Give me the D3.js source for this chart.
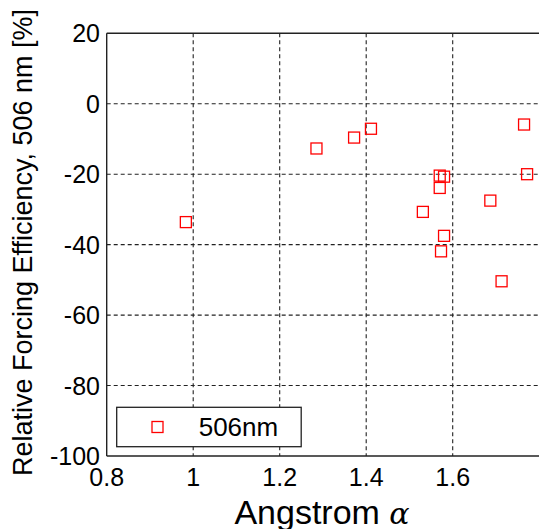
<!DOCTYPE html>
<html>
<head>
<meta charset="utf-8">
<script src="https://cdn.jsdelivr.net/npm/d3@7"></script>
<style>
  html, body { margin: 0; padding: 0; background: #fff; }
  svg { display: block; }
  text { font-family: "Liberation Sans", Arial, sans-serif; fill: #000; }
</style>
</head>
<body>
<svg id="chart" width="539" height="529"></svg>
<script>
// ---- data ----
const alphaValues = [0.983, 1.285, 1.372, 1.411, 1.765, 1.772, 1.570, 1.580, 1.570, 1.687, 1.531, 1.580, 1.573, 1.713];
const efficiency  = [-33.6, -12.7, -9.6, -7.1, -5.9, -20.0, -20.4, -20.7, -23.9, -27.5, -30.7, -37.5, -41.9, -50.4];
const xTicks = [0.8, 1.0, 1.2, 1.4, 1.6];
const xTickLabels = ["0.8", "1", "1.2", "1.4", "1.6"];
const yTicks = [20, 0, -20, -40, -60, -80, -100];
const seriesName = "506nm";
const xTitle = "Angstrom ";
const xTitleSymbol = "α";
const yTitle = "Relative Forcing Efficiency, 506 nm [%]";

// ---- layout ----
const pL = 106.7, pR = 539.2, pT = 33.3, pB = 456;
const svg = d3.select("#chart");
const x = d3.scaleLinear().domain([0.8, 1.8]).range([pL, pR]);
const y = d3.scaleLinear().domain([-100, 20]).range([pB, pT]);

// grid
const grid = svg.append("g").attr("stroke", "#222").attr("stroke-width", 1.1).attr("stroke-dasharray", "4,3");
grid.selectAll("line.v").data(xTicks.filter(t => t > 0.8)).enter().append("line")
  .attr("x1", d => x(d)).attr("x2", d => x(d)).attr("y1", pT).attr("y2", pB);
grid.selectAll("line.h").data(yTicks.filter(t => t < 20 && t > -100)).enter().append("line")
  .attr("x1", pL).attr("x2", 539).attr("y1", d => y(d)).attr("y2", d => y(d));

// axes frame (top, left, bottom)
const frame = svg.append("g").attr("stroke", "#222").attr("stroke-width", 1.4).attr("fill", "none");
frame.append("line").attr("x1", pL).attr("x2", 539).attr("y1", pT).attr("y2", pT);
frame.append("line").attr("x1", pL).attr("x2", 539).attr("y1", pB).attr("y2", pB);
frame.append("line").attr("x1", pL).attr("x2", pL).attr("y1", pT).attr("y2", pB);

// tick labels
svg.append("g").selectAll("text").data(xTicks).enter().append("text")
  .attr("x", d => x(d)).attr("y", 486).attr("text-anchor", "middle")
  .attr("font-size", 25).text((d, i) => xTickLabels[i]);
svg.append("g").selectAll("text").data(yTicks).enter().append("text")
  .attr("x", 100).attr("y", d => y(d) + 9).attr("text-anchor", "end")
  .attr("font-size", 25).text(d => d);

// points
const sz = 11;
svg.append("g").selectAll("rect").data(alphaValues).enter().append("rect")
  .attr("x", (d) => x(d) - sz / 2)
  .attr("y", (d, i) => y(efficiency[i]) - sz / 2)
  .attr("width", sz).attr("height", sz)
  .attr("fill", "none").attr("stroke", "#ff0000").attr("stroke-width", 1.3);

// legend
const lg = svg.append("g");
lg.append("rect").attr("x", 116.7).attr("y", 407.3).attr("width", 184.5).attr("height", 39.4)
  .attr("fill", "#fff").attr("stroke", "#222").attr("stroke-width", 1.3);
lg.append("rect").attr("x", 157.5 - sz / 2).attr("y", 427 - sz / 2).attr("width", sz).attr("height", sz)
  .attr("fill", "none").attr("stroke", "#ff0000").attr("stroke-width", 1.3);
lg.append("text").attr("x", 198.7).attr("y", 435.5).attr("font-size", 26).text(seriesName);

// axis titles
const xt = svg.append("text").attr("x", 322).attr("y", 523.5).attr("text-anchor", "middle").attr("font-size", 34);
xt.append("tspan").text(xTitle);
xt.append("tspan").attr("font-family", "DejaVu Serif").attr("font-style", "italic").attr("font-size", 30).text(xTitleSymbol);
svg.append("text").attr("transform", "translate(32,242.5) rotate(-90)")
  .attr("text-anchor", "middle").attr("font-size", 27).text(yTitle);
</script>
</body>
</html>
